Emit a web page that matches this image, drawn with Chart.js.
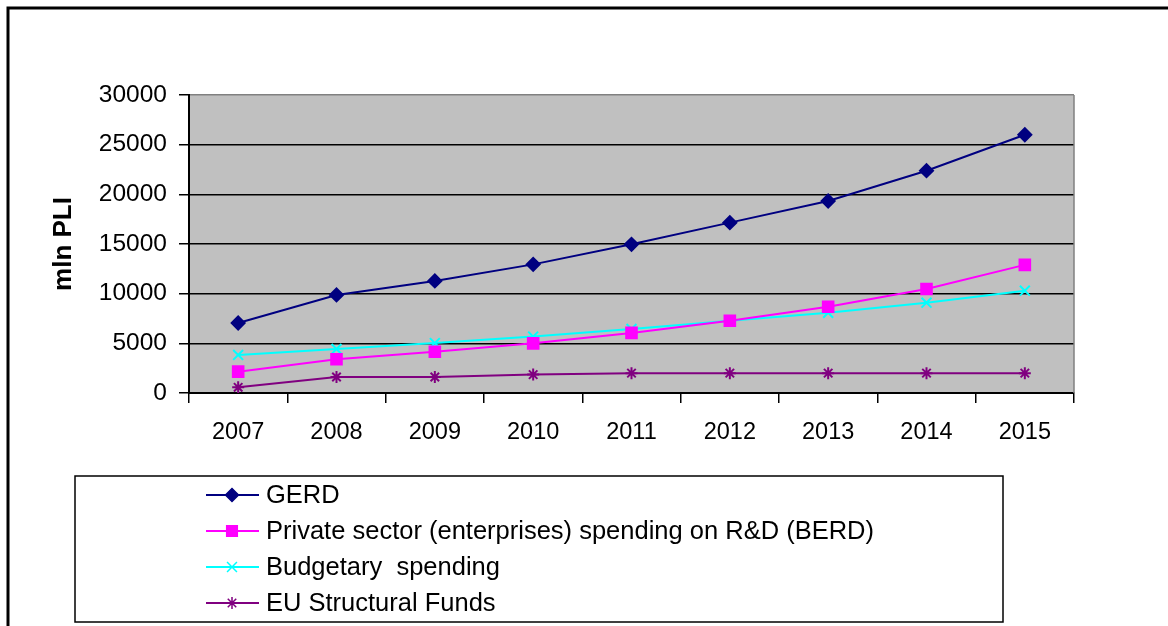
<!DOCTYPE html>
<html>
<head>
<meta charset="utf-8">
<script src="https://cdn.jsdelivr.net/npm/chart.js"></script>
<style>
  body { margin: 0; background: #fff; }
</style>
</head>
<body>
<canvas id="myChart" width="1168" height="626"></canvas>
<script>
// values, mln PLI
const years = ['2007', '2008', '2009', '2010', '2011', '2012', '2013', '2014', '2015'];
const gerd = [7050, 9870, 11280, 12950, 14970, 17150, 19330, 22380, 26000];
const berd = [2150, 3400, 4150, 5000, 6050, 7280, 8690, 10470, 12900];
const budget = [3830, 4430, 5030, 5680, 6450, 7280, 8080, 9090, 10300];
const euFunds = [570, 1610, 1610, 1850, 2000, 2000, 2000, 2000, 2000];
const seriesNames = ['GERD', 'Private sector (enterprises) spending on R&D (BERD)', 'Budgetary  spending', 'EU Structural Funds'];
const yTicks = [0, 5000, 10000, 15000, 20000, 25000, 30000];

const FONT = 'Liberation Sans, Arial, sans-serif';

// gray plot background, frame, legend box
const decor = {
    id: 'decor',
    beforeDraw: function(chart) {
        const ctx = chart.ctx;
        const a = chart.chartArea;
        ctx.save();
        ctx.fillStyle = '#C0C0C0';
        ctx.fillRect(a.left, a.top, a.right - a.left, a.bottom - a.top);
        ctx.restore();
    },
    afterDraw: function(chart) {
        const ctx = chart.ctx;
        const a = chart.chartArea;
        ctx.save();
        // right edge of plot area
        ctx.strokeStyle = '#808080';
        ctx.lineWidth = 1.5;
        ctx.beginPath();
        ctx.moveTo(a.right, a.top);
        ctx.lineTo(a.right, a.bottom);
        ctx.stroke();

        // outer frame
        ctx.strokeStyle = '#000';
        ctx.lineWidth = 3;
        ctx.beginPath();
        ctx.moveTo(8, 626);
        ctx.lineTo(8, 8);
        ctx.lineTo(1168, 8);
        ctx.stroke();

        // legend box
        ctx.lineWidth = 1.5;
        ctx.strokeRect(75, 476, 928, 146);

        const rowY = [495, 531, 567, 603];
        chart.data.datasets.forEach(function(ds, i) {
            const y = rowY[i];
            ctx.strokeStyle = ds.borderColor;
            ctx.lineWidth = 2;
            ctx.beginPath();
            ctx.moveTo(206, y);
            ctx.lineTo(259, y);
            ctx.stroke();
            ctx.fillStyle = ds.pointBackgroundColor;
            ctx.strokeStyle = ds.pointBorderColor;
            ctx.lineWidth = 1.5;
            Chart.helpers.drawPoint(ctx, {pointStyle: ds.pointStyle, radius: ds.pointRadius, rotation: 0, borderWidth: 1.5}, 232, y);
            ctx.fillStyle = '#000';
            ctx.font = '25.5px ' + FONT;
            ctx.textBaseline = 'middle';
            ctx.textAlign = 'left';
            ctx.fillText(ds.label, 266, y + 1);
        });
        ctx.restore();
    }
};

const ctx = document.getElementById('myChart');
const myChart = new Chart(ctx, {
    type: 'line',
    data: {
        labels: years,
        datasets: [{
            label: seriesNames[0],
            data: gerd,
            borderColor: '#000080',
            pointBackgroundColor: '#000080',
            pointBorderColor: '#000080',
            pointStyle: 'rectRot',
            pointRadius: 6.5,
            borderWidth: 2
        }, {
            label: seriesNames[1],
            data: berd,
            borderColor: '#FF00FF',
            pointBackgroundColor: '#FF00FF',
            pointBorderColor: '#FF00FF',
            pointStyle: 'rect',
            pointRadius: 7.5,
            borderWidth: 2
        }, {
            label: seriesNames[2],
            data: budget,
            borderColor: '#00FFFF',
            pointBackgroundColor: '#00FFFF',
            pointBorderColor: '#00FFFF',
            pointStyle: 'crossRot',
            pointRadius: 7,
            pointBorderWidth: 2,
            borderWidth: 2
        }, {
            label: seriesNames[3],
            data: euFunds,
            borderColor: '#800080',
            pointBackgroundColor: '#800080',
            pointBorderColor: '#800080',
            pointStyle: 'star',
            pointRadius: 6,
            pointBorderWidth: 2,
            borderWidth: 2
        }]
    },
    options: {
        responsive: false,
        animation: false,
        layout: {
            padding: { left: 0, top: 95, right: 94, bottom: 173 }
        },
        plugins: {
            legend: { display: false },
            tooltip: { enabled: false }
        },
        elements: { line: { tension: 0 } },
        scales: {
            x: {
                offset: true,
                grid: {
                    offset: true,
                    drawOnChartArea: false,
                    color: '#000',
                    tickLength: 10,
                    lineWidth: 1.5
                },
                border: { color: '#000', width: 2 },
                ticks: {
                    color: '#000',
                    padding: 15,
                    maxRotation: 0,
                    font: { family: FONT, size: 23.5 }
                },
                afterFit: function(scale) { scale.height = 60; }
            },
            y: {
                min: 0,
                max: 30000,
                afterBuildTicks: function(scale) {
                    scale.ticks = yTicks.map(function(v) { return { value: v }; });
                },
                grid: {
                    color: function(c) { return c.tick && c.tick.value === 30000 ? '#808080' : '#000'; },
                    tickColor: '#000',
                    tickLength: 10,
                    lineWidth: 1.5
                },
                border: { color: '#000', width: 2 },
                ticks: {
                    color: '#000',
                    padding: 12,
                    font: { family: FONT, size: 24.5 },
                    callback: function(v) { return String(v); }
                },
                title: {
                    display: true,
                    text: 'mln PLI',
                    color: '#000',
                    padding: { top: 48, bottom: 0 },
                    font: { family: FONT, size: 26, weight: 'bold' }
                },
                afterFit: function(scale) { scale.width = 189; }
            }
        }
    },
    plugins: [decor]
});
</script>
</body>
</html>
